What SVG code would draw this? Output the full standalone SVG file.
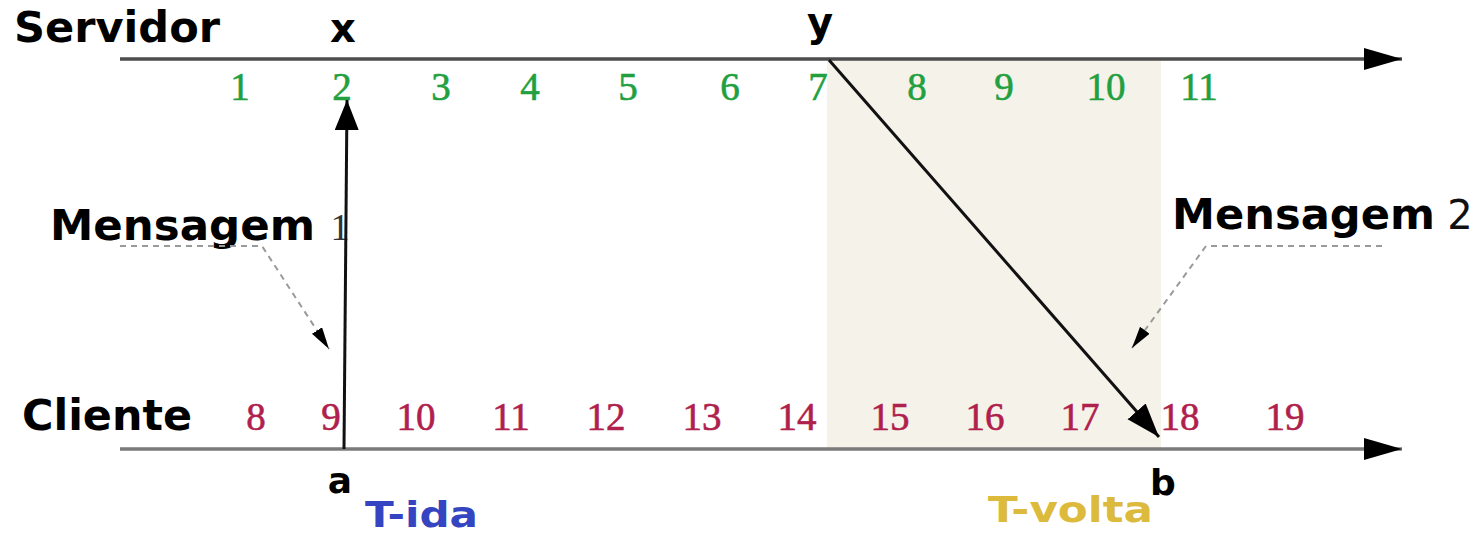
<svg xmlns="http://www.w3.org/2000/svg" width="1479" height="535" viewBox="0 0 1479 535">
<style>
.lbl{font-family:"DejaVu Sans",Verdana,sans-serif;font-weight:bold;fill:#000}
.g{font-family:"Liberation Serif","Times New Roman",serif;font-size:39px;fill:#22a040;stroke:#22a040;stroke-width:0.6;text-anchor:middle}
.r{font-family:"Liberation Serif","Times New Roman",serif;font-size:39px;fill:#b0204c;stroke:#b0204c;stroke-width:0.6;text-anchor:middle}
.axis{stroke:#4d4d4d;stroke-width:3.5;fill:none}
.msg{stroke:#111;stroke-width:3;fill:none}
.call{stroke:#9a9a9a;stroke-width:2;stroke-dasharray:6 5;fill:none}
</style>
<defs>
<marker id="axHead" markerUnits="userSpaceOnUse" markerWidth="40" markerHeight="24" refX="38" refY="11" orient="auto">
<path d="M0,0 L38,11 L0,22 Z" fill="#000"/>
</marker>
<marker id="msgHead" markerUnits="userSpaceOnUse" markerWidth="36" markerHeight="26" refX="34" refY="12" orient="auto">
<path d="M0,0 L34,12 L0,24 Z" fill="#000"/>
</marker>
<marker id="upHead" markerUnits="userSpaceOnUse" markerWidth="32" markerHeight="26" refX="30" refY="12" orient="auto">
<path d="M0,0 L30,12 L0,24 Z" fill="#000"/>
</marker>
<marker id="callHead" markerUnits="userSpaceOnUse" markerWidth="24" markerHeight="14" refX="22" refY="6" orient="auto">
<path d="M0,0 L22,6 L0,12 Z" fill="#000"/>
</marker>
</defs>
<rect x="0" y="0" width="1479" height="535" fill="#fff"/>
<rect id="shade" x="827" y="60" width="334" height="389" fill="#f5f2ea"/>

<g id="servidor">
<text class="lbl" x="14" y="42" font-size="42" textLength="206" lengthAdjust="spacingAndGlyphs">Servidor</text>
<text class="lbl" x="343" y="42" font-size="40" text-anchor="middle">x</text>
<text class="lbl" x="820" y="36" font-size="40" text-anchor="middle">y</text>
<g id="server-ticks">
<text class="g" x="240" y="100">1</text>
<text class="g" x="342" y="100">2</text>
<text class="g" x="441" y="100">3</text>
<text class="g" x="530" y="100">4</text>
<text class="g" x="628" y="100">5</text>
<text class="g" x="730" y="100">6</text>
<text class="g" x="818" y="100">7</text>
<text class="g" x="917" y="100">8</text>
<text class="g" x="1004" y="100">9</text>
<text class="g" x="1106" y="100">10</text>
<text class="g" x="1199" y="100">11</text>
</g>
</g>

<g id="cliente">
<text class="lbl" x="22" y="430" font-size="42" textLength="170" lengthAdjust="spacingAndGlyphs">Cliente</text>
<text class="lbl" x="340" y="493" font-size="36" text-anchor="middle">a</text>
<text class="lbl" x="1163" y="495" font-size="36" text-anchor="middle">b</text>
<g id="client-ticks">
<text class="r" x="256" y="430">8</text>
<text class="r" x="331" y="430">9</text>
<text class="r" x="416" y="430">10</text>
<text class="r" x="511" y="430">11</text>
<text class="r" x="606" y="430">12</text>
<text class="r" x="702" y="430">13</text>
<text class="r" x="797" y="430">14</text>
<text class="r" x="890" y="430">15</text>
<text class="r" x="985" y="430">16</text>
<text class="r" x="1080" y="430">17</text>
<text class="r" x="1180" y="430">18</text>
<text class="r" x="1285" y="430">19</text>
</g>
</g>

<g id="mensagem1">
<text class="lbl" x="50" y="240" font-size="43" textLength="265" lengthAdjust="spacingAndGlyphs">Mensagem</text>
<text x="340" y="240" font-family="Liberation Serif,serif" font-size="38" fill="#333" text-anchor="middle">1</text>
</g>
<g id="mensagem2">
<text class="lbl" x="1172" y="229" font-size="43" textLength="263" lengthAdjust="spacingAndGlyphs">Mensagem</text>
<text x="1460" y="229" font-family="DejaVu Sans,sans-serif" font-size="40" fill="#111" text-anchor="middle">2</text>
</g>
<g id="tida">
<text class="lbl" x="365" y="527" font-size="36" textLength="113" lengthAdjust="spacingAndGlyphs" style="fill:#3544c0">T-ida</text>
</g>
<g id="tvolta">
<text class="lbl" x="988" y="522" font-size="36" textLength="165" lengthAdjust="spacingAndGlyphs" style="fill:#dcba3c">T-volta</text>
</g>

<g id="connectors">
<line class="axis" x1="120" y1="59" x2="1402" y2="59" marker-end="url(#axHead)"/>
<line class="axis" x1="120" y1="449" x2="1402" y2="449" style="stroke:#7a7a7a" marker-end="url(#axHead)"/>
<line class="msg" x1="344" y1="449" x2="347" y2="100" marker-end="url(#upHead)"/>
<line class="msg" x1="829" y1="60" x2="1159" y2="437" marker-end="url(#msgHead)"/>
<path class="call" d="M120,246 L262,246 L329,349" marker-end="url(#callHead)"/>
<path class="call" d="M1382,246 L1206,246 L1132,348" marker-end="url(#callHead)"/>
</g>
</svg>
